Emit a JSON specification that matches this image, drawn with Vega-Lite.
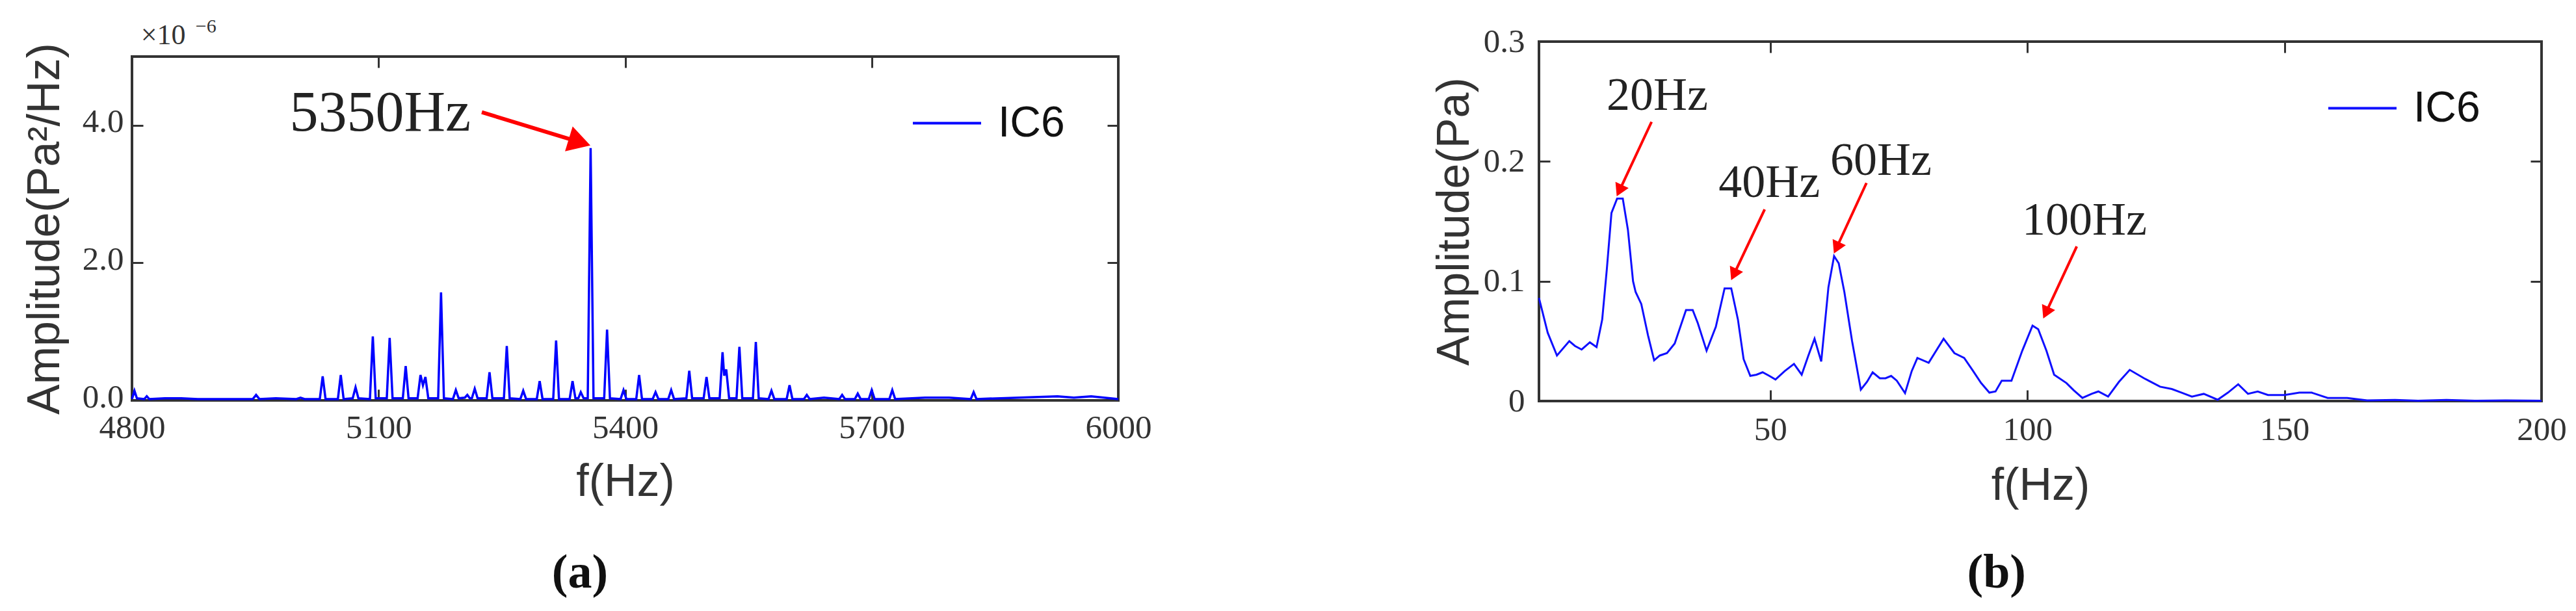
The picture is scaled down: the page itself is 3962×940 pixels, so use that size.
{
  "$schema": "https://vega.github.io/schema/vega-lite/v6.json",
  "padding": {"left": 32, "top": 23, "right": 0, "bottom": 0},
  "background": "white",
  "bounds": "flush",
  "spacing": 2164,
  "config": {
    "view": {"stroke": "#333333", "strokeWidth": 4},
    "axis": {
      "domain": false, "grid": false, "tickSize": -17, "tickWidth": 3, "tickColor": "#333333",
      "labelFont": "Liberation Serif", "labelFontSize": 51, "labelColor": "#333333",
      "titleFont": "Liberation Sans", "titleFontSize": 70, "titleFontWeight": "normal", "titleColor": "#333333",
      "labelFlush": false, "labelOverlap": false, "labelBound": false
    },
    "legend": {
      "title": null, "symbolType": "stroke", "symbolSize": 11025, "symbolStrokeWidth": 4,
      "labelFont": "Liberation Sans", "labelFontSize": 66, "labelColor": "#111111", "labelOffset": 24, "padding": 0
    }
  },
  "datasets": {
    "specA": [
      {"f": 4800, "amp": 0.02}, {"f": 4803, "amp": 0.14}, {"f": 4806, "amp": 0.03}, {"f": 4815, "amp": 0.02},
      {"f": 4818, "amp": 0.06}, {"f": 4821, "amp": 0.02}, {"f": 4840, "amp": 0.03}, {"f": 4860, "amp": 0.03},
      {"f": 4880, "amp": 0.02}, {"f": 4947, "amp": 0.02}, {"f": 4951, "amp": 0.08}, {"f": 4955, "amp": 0.02},
      {"f": 4975, "amp": 0.03}, {"f": 5000, "amp": 0.02}, {"f": 5005, "amp": 0.04}, {"f": 5010, "amp": 0.02},
      {"f": 5028.5, "amp": 0.02}, {"f": 5032, "amp": 0.35}, {"f": 5035.5, "amp": 0.02},
      {"f": 5050.5, "amp": 0.02}, {"f": 5054, "amp": 0.37}, {"f": 5057.5, "amp": 0.02},
      {"f": 5068.5, "amp": 0.03}, {"f": 5072, "amp": 0.19}, {"f": 5075.5, "amp": 0.03},
      {"f": 5089.5, "amp": 0.02}, {"f": 5093, "amp": 0.93}, {"f": 5096.5, "amp": 0.03},
      {"f": 5110, "amp": 0.03}, {"f": 5113.5, "amp": 0.91}, {"f": 5117, "amp": 0.03},
      {"f": 5129.5, "amp": 0.03}, {"f": 5133, "amp": 0.5}, {"f": 5136.5, "amp": 0.03},
      {"f": 5147.5, "amp": 0.03}, {"f": 5151, "amp": 0.37}, {"f": 5154, "amp": 0.22}, {"f": 5157, "amp": 0.34}, {"f": 5160.5, "amp": 0.03},
      {"f": 5172.5, "amp": 0.03}, {"f": 5176, "amp": 1.57}, {"f": 5179.5, "amp": 0.03},
      {"f": 5190.5, "amp": 0.02}, {"f": 5194, "amp": 0.15}, {"f": 5197.5, "amp": 0.03},
      {"f": 5205, "amp": 0.04}, {"f": 5208, "amp": 0.08}, {"f": 5211, "amp": 0.03},
      {"f": 5213.5, "amp": 0.03}, {"f": 5217, "amp": 0.17}, {"f": 5220.5, "amp": 0.03},
      {"f": 5231.5, "amp": 0.03}, {"f": 5235, "amp": 0.41}, {"f": 5238.5, "amp": 0.03},
      {"f": 5252.5, "amp": 0.03}, {"f": 5256, "amp": 0.79}, {"f": 5259.5, "amp": 0.03},
      {"f": 5272.5, "amp": 0.02}, {"f": 5276, "amp": 0.14}, {"f": 5279.5, "amp": 0.02},
      {"f": 5292.5, "amp": 0.02}, {"f": 5296, "amp": 0.28}, {"f": 5299.5, "amp": 0.02},
      {"f": 5312.5, "amp": 0.02}, {"f": 5316, "amp": 0.87}, {"f": 5319.5, "amp": 0.02},
      {"f": 5332.5, "amp": 0.02}, {"f": 5336, "amp": 0.28}, {"f": 5339.5, "amp": 0.03},
      {"f": 5343, "amp": 0.03}, {"f": 5346, "amp": 0.12}, {"f": 5349.5, "amp": 0.03},
      {"f": 5354.5, "amp": 0.03}, {"f": 5358, "amp": 3.67}, {"f": 5361.5, "amp": 0.03},
      {"f": 5374.5, "amp": 0.03}, {"f": 5378, "amp": 1.03}, {"f": 5381.5, "amp": 0.03},
      {"f": 5394.5, "amp": 0.02}, {"f": 5398, "amp": 0.15}, {"f": 5401.5, "amp": 0.02},
      {"f": 5413.5, "amp": 0.02}, {"f": 5417, "amp": 0.37}, {"f": 5420.5, "amp": 0.02},
      {"f": 5433.5, "amp": 0.02}, {"f": 5437, "amp": 0.12}, {"f": 5440.5, "amp": 0.02},
      {"f": 5452.5, "amp": 0.02}, {"f": 5456, "amp": 0.15}, {"f": 5459.5, "amp": 0.02},
      {"f": 5474.5, "amp": 0.03}, {"f": 5478, "amp": 0.43}, {"f": 5481.5, "amp": 0.03},
      {"f": 5495.5, "amp": 0.03}, {"f": 5499, "amp": 0.34}, {"f": 5502.5, "amp": 0.03},
      {"f": 5515, "amp": 0.03}, {"f": 5518.5, "amp": 0.7}, {"f": 5520.5, "amp": 0.36}, {"f": 5523, "amp": 0.45}, {"f": 5526.5, "amp": 0.03},
      {"f": 5535.5, "amp": 0.03}, {"f": 5539, "amp": 0.78}, {"f": 5542.5, "amp": 0.03},
      {"f": 5555.5, "amp": 0.03}, {"f": 5559, "amp": 0.85}, {"f": 5562.5, "amp": 0.03},
      {"f": 5574.5, "amp": 0.02}, {"f": 5578, "amp": 0.14}, {"f": 5581.5, "amp": 0.02},
      {"f": 5596.5, "amp": 0.02}, {"f": 5600, "amp": 0.22}, {"f": 5603.5, "amp": 0.02},
      {"f": 5617.5, "amp": 0.02}, {"f": 5621, "amp": 0.08}, {"f": 5624.5, "amp": 0.02},
      {"f": 5642, "amp": 0.04}, {"f": 5660.5, "amp": 0.02}, {"f": 5664, "amp": 0.08}, {"f": 5667.5, "amp": 0.02},
      {"f": 5679.5, "amp": 0.02}, {"f": 5683, "amp": 0.1}, {"f": 5686.5, "amp": 0.02},
      {"f": 5696.5, "amp": 0.02}, {"f": 5700, "amp": 0.15}, {"f": 5703.5, "amp": 0.02},
      {"f": 5721.5, "amp": 0.02}, {"f": 5725, "amp": 0.15}, {"f": 5728.5, "amp": 0.02},
      {"f": 5765, "amp": 0.04}, {"f": 5794, "amp": 0.04},
      {"f": 5820.5, "amp": 0.02}, {"f": 5824, "amp": 0.12}, {"f": 5827.5, "amp": 0.02},
      {"f": 5926, "amp": 0.06}, {"f": 5946, "amp": 0.04}, {"f": 5967, "amp": 0.06}, {"f": 6000, "amp": 0.02}
    ],
    "specB": [
      {"f": 5, "amp": 0.086}, {"f": 6.7, "amp": 0.057}, {"f": 8.5, "amp": 0.038}, {"f": 10.9, "amp": 0.05},
      {"f": 12.0, "amp": 0.046}, {"f": 13.3, "amp": 0.043}, {"f": 14.9, "amp": 0.049}, {"f": 16.2, "amp": 0.045},
      {"f": 17.3, "amp": 0.068}, {"f": 18.2, "amp": 0.11}, {"f": 19.1, "amp": 0.157}, {"f": 20.2, "amp": 0.169},
      {"f": 21.3, "amp": 0.169}, {"f": 22.3, "amp": 0.143}, {"f": 23.3, "amp": 0.1}, {"f": 23.8, "amp": 0.091},
      {"f": 24.9, "amp": 0.081}, {"f": 26.2, "amp": 0.055}, {"f": 27.4, "amp": 0.034}, {"f": 28.5, "amp": 0.038},
      {"f": 29.9, "amp": 0.04}, {"f": 31.4, "amp": 0.048}, {"f": 32.5, "amp": 0.062}, {"f": 33.6, "amp": 0.076},
      {"f": 34.9, "amp": 0.076}, {"f": 35.9, "amp": 0.065}, {"f": 37.6, "amp": 0.042}, {"f": 39.4, "amp": 0.062},
      {"f": 41.1, "amp": 0.094}, {"f": 42.4, "amp": 0.094}, {"f": 43.7, "amp": 0.068}, {"f": 44.8, "amp": 0.035},
      {"f": 46.1, "amp": 0.021}, {"f": 47.3, "amp": 0.022}, {"f": 48.5, "amp": 0.024}, {"f": 49.8, "amp": 0.021},
      {"f": 51.0, "amp": 0.018}, {"f": 52.8, "amp": 0.025}, {"f": 54.6, "amp": 0.031}, {"f": 56.1, "amp": 0.022},
      {"f": 57.4, "amp": 0.038}, {"f": 58.6, "amp": 0.052}, {"f": 59.9, "amp": 0.033}, {"f": 61.3, "amp": 0.095},
      {"f": 62.4, "amp": 0.121}, {"f": 63.3, "amp": 0.115}, {"f": 64.4, "amp": 0.091}, {"f": 65.9, "amp": 0.05},
      {"f": 67.6, "amp": 0.0095}, {"f": 68.8, "amp": 0.016}, {"f": 69.9, "amp": 0.024}, {"f": 71.3, "amp": 0.019},
      {"f": 72.4, "amp": 0.019}, {"f": 73.5, "amp": 0.021}, {"f": 74.6, "amp": 0.017}, {"f": 76.2, "amp": 0.0066},
      {"f": 77.5, "amp": 0.025}, {"f": 78.6, "amp": 0.036}, {"f": 80.8, "amp": 0.032}, {"f": 83.7, "amp": 0.052},
      {"f": 85.8, "amp": 0.04}, {"f": 87.7, "amp": 0.036}, {"f": 89.3, "amp": 0.026}, {"f": 91.0, "amp": 0.015},
      {"f": 92.6, "amp": 0.007}, {"f": 93.8, "amp": 0.008}, {"f": 95.0, "amp": 0.017}, {"f": 96.9, "amp": 0.017},
      {"f": 99.0, "amp": 0.042}, {"f": 101.0, "amp": 0.063}, {"f": 102.1, "amp": 0.06}, {"f": 103.7, "amp": 0.042},
      {"f": 105.2, "amp": 0.022}, {"f": 107.6, "amp": 0.015}, {"f": 109.0, "amp": 0.009}, {"f": 110.7, "amp": 0.0026},
      {"f": 112.5, "amp": 0.006}, {"f": 113.8, "amp": 0.008}, {"f": 115.7, "amp": 0.0037}, {"f": 117.8, "amp": 0.016},
      {"f": 119.9, "amp": 0.026}, {"f": 122.7, "amp": 0.019}, {"f": 125.8, "amp": 0.012}, {"f": 128.1, "amp": 0.01},
      {"f": 130.0, "amp": 0.007}, {"f": 132.0, "amp": 0.0037}, {"f": 134.3, "amp": 0.006}, {"f": 137.0, "amp": 0.0011},
      {"f": 139.0, "amp": 0.007}, {"f": 141.0, "amp": 0.014}, {"f": 142.9, "amp": 0.006}, {"f": 144.8, "amp": 0.008},
      {"f": 146.8, "amp": 0.005}, {"f": 150, "amp": 0.005}, {"f": 152.9, "amp": 0.007}, {"f": 155.3, "amp": 0.007},
      {"f": 158.4, "amp": 0.0026}, {"f": 162.2, "amp": 0.0026}, {"f": 166.1, "amp": 0.0005}, {"f": 171.5, "amp": 0.001},
      {"f": 176, "amp": 0.0003}, {"f": 181.5, "amp": 0.001}, {"f": 187, "amp": 0.0003}, {"f": 193, "amp": 0.0005},
      {"f": 200, "amp": 0.0003}
    ]
  },
  "hconcat": [
    {
      "bounds": "flush",
      "spacing": 10,
      "vconcat": [
        {
          "width": 1517, "height": 13,
          "view": {"stroke": null},
          "data": {"values": [{"f": 0}]},
          "mark": {"type": "point", "opacity": 0},
          "encoding": {}
        },
        {
          "width": 1517, "height": 529,
          "layer": [
            {
              "data": {"name": "specA"},
              "mark": {"type": "line", "strokeWidth": 3.5},
              "encoding": {
                "x": {"field": "f", "type": "quantitative", "scale": {"domain": [4800, 6000], "nice": false, "zero": false},
                      "axis": {"values": [4800, 5100, 5400, 5700, 6000], "format": "d", "title": "f(Hz)", "labelPadding": 34, "titlePadding": 24}},
                "y": {"field": "amp", "type": "quantitative", "scale": {"domain": [0, 5], "nice": false},
                      "axis": {"values": [0, 2, 4], "format": ".1f", "title": "Amplitude(Pa²/Hz)", "labelPadding": 30, "titlePadding": 21, "labelOffset": -5}},
                "color": {"datum": "IC6", "type": "nominal", "scale": {"range": ["#0000ff"]},
                          "legend": {"orient": "none", "legendX": 1199, "legendY": 71}}
              }
            },
            {
              "data": {"name": "specA"},
              "mark": {"type": "line", "strokeOpacity": 0},
              "encoding": {
                "x": {"field": "f", "type": "quantitative", "axis": {"orient": "top", "values": [5100, 5400, 5700], "labels": false, "title": null}},
                "y": {"field": "amp", "type": "quantitative", "axis": {"orient": "right", "values": [2, 4], "labels": false, "title": null}}
              }
            },
            {
              "data": {"values": [{"f": 5225.6, "amp": 4.19, "f2": 5344.6, "amp2": 3.755}]},
              "mark": {"type": "rule", "color": "#ff0000", "strokeWidth": 6},
              "encoding": {
                "x": {"field": "f", "type": "quantitative", "axis": null},
                "y": {"field": "amp", "type": "quantitative", "axis": null},
                "x2": {"field": "f2"}, "y2": {"field": "amp2"}
              }
            },
            {
              "data": {"values": [{"f": 5344.6, "amp": 3.755}]},
              "mark": {"type": "point", "shape": "triangle-right", "filled": true, "color": "#ff0000", "opacity": 1, "size": 1600, "angle": 17},
              "encoding": {
                "x": {"field": "f", "type": "quantitative", "axis": null},
                "y": {"field": "amp", "type": "quantitative", "axis": null}
              }
            },
            {
              "data": {"values": [{"f": 5102, "amp": 3.924, "label": "5350Hz"}]},
              "mark": {"type": "text", "font": "Liberation Serif", "fontSize": 88, "color": "#222222", "align": "center", "baseline": "alphabetic"},
              "encoding": {
                "x": {"field": "f", "type": "quantitative", "axis": null},
                "y": {"field": "amp", "type": "quantitative", "axis": null},
                "text": {"field": "label"}
              }
            },
            {
              "data": {"values": [{"f": 4838, "amp": 5.182, "label": "×10"}]},
              "mark": {"type": "text", "font": "Liberation Serif", "fontSize": 44, "color": "#333333", "align": "center", "baseline": "alphabetic"},
              "encoding": {
                "x": {"field": "f", "type": "quantitative", "axis": null},
                "y": {"field": "amp", "type": "quantitative", "axis": null},
                "text": {"field": "label"}
              }
            },
            {
              "data": {"values": [{"f": 4890, "amp": 5.352, "label": "−6"}]},
              "mark": {"type": "text", "font": "Liberation Serif", "fontSize": 30, "color": "#333333", "align": "center", "baseline": "alphabetic"},
              "encoding": {
                "x": {"field": "f", "type": "quantitative", "axis": null},
                "y": {"field": "amp", "type": "quantitative", "axis": null},
                "text": {"field": "label"}
              }
            },
            {
              "data": {"values": [{"f": 5345, "amp": -2.515, "label": "(a)"}]},
              "mark": {"type": "text", "font": "Liberation Serif", "fontSize": 74, "fontWeight": "bold", "color": "#111111", "align": "center", "baseline": "middle"},
              "encoding": {
                "x": {"field": "f", "type": "quantitative", "axis": null},
                "y": {"field": "amp", "type": "quantitative", "axis": null},
                "text": {"field": "label"}
              }
            }
          ],
          "resolve": {"axis": {"x": "independent", "y": "independent"}}
        }
      ]
    },
    {
      "width": 1542, "height": 553,
      "layer": [
        {
          "data": {"name": "specB"},
          "mark": {"type": "line", "strokeWidth": 3},
          "encoding": {
            "x": {"field": "f", "type": "quantitative", "scale": {"domain": [5, 200], "nice": false, "zero": false},
                  "axis": {"values": [50, 100, 150, 200], "title": "f(Hz)", "labelPadding": 36, "titlePadding": 27}},
            "y": {"field": "amp", "type": "quantitative", "scale": {"domain": [0, 0.3], "nice": false},
                  "axis": {"values": [0, 0.1, 0.2, 0.3], "labelExpr": "datum.value == 0 ? '0' : format(datum.value, '.1f')", "title": "Amplitude(Pa)", "labelPadding": 39, "titlePadding": 8}},
            "color": {"datum": "IC6", "type": "nominal", "scale": {"range": ["#1010ff"]},
                      "legend": {"orient": "none", "legendX": 1212, "legendY": 48}}
          }
        },
        {
          "data": {"name": "specB"},
          "mark": {"type": "line", "strokeOpacity": 0},
          "encoding": {
            "x": {"field": "f", "type": "quantitative", "axis": {"orient": "top", "values": [50, 100, 150], "labels": false, "title": null}},
            "y": {"field": "amp", "type": "quantitative", "axis": {"orient": "right", "values": [0.1, 0.2], "labels": false, "title": null}}
          }
        },
        {
          "data": {"values": [
            {"f": 26.9, "amp": 0.233, "f2": 20.64, "amp2": 0.1756},
            {"f": 48.9, "amp": 0.16, "f2": 42.9, "amp2": 0.1056},
            {"f": 68.7, "amp": 0.182, "f2": 62.88, "amp2": 0.1279},
            {"f": 109.6, "amp": 0.129, "f2": 103.6, "amp2": 0.0737}
          ]},
          "mark": {"type": "rule", "color": "#ff0000", "strokeWidth": 4},
          "encoding": {
            "x": {"field": "f", "type": "quantitative", "axis": null},
            "y": {"field": "amp", "type": "quantitative", "axis": null},
            "x2": {"field": "f2"}, "y2": {"field": "amp2"}
          }
        },
        {
          "data": {"values": [
            {"f": 20.64, "amp": 0.1756}, {"f": 42.9, "amp": 0.1056}, {"f": 62.88, "amp": 0.1279}, {"f": 103.6, "amp": 0.0737}
          ]},
          "mark": {"type": "point", "shape": "triangle-right", "filled": true, "color": "#ff0000", "opacity": 1, "size": 500, "angle": 115},
          "encoding": {
            "x": {"field": "f", "type": "quantitative", "axis": null},
            "y": {"field": "amp", "type": "quantitative", "axis": null}
          }
        },
        {
          "data": {"values": [
            {"f": 28.0, "amp": 0.2431, "label": "20Hz"},
            {"f": 49.8, "amp": 0.1702, "label": "40Hz"},
            {"f": 71.5, "amp": 0.1886, "label": "60Hz"},
            {"f": 111.1, "amp": 0.139, "label": "100Hz"}
          ]},
          "mark": {"type": "text", "font": "Liberation Serif", "fontSize": 72, "color": "#222222", "align": "center", "baseline": "alphabetic"},
          "encoding": {
            "x": {"field": "f", "type": "quantitative", "axis": null},
            "y": {"field": "amp", "type": "quantitative", "axis": null},
            "text": {"field": "label"}
          }
        },
        {
          "data": {"values": [{"f": 94.0, "amp": -0.1436, "label": "(b)"}]},
          "mark": {"type": "text", "font": "Liberation Serif", "fontSize": 74, "fontWeight": "bold", "color": "#111111", "align": "center", "baseline": "middle"},
          "encoding": {
            "x": {"field": "f", "type": "quantitative", "axis": null},
            "y": {"field": "amp", "type": "quantitative", "axis": null},
            "text": {"field": "label"}
          }
        }
      ],
      "resolve": {"axis": {"x": "independent", "y": "independent"}}
    }
  ],
  "resolve": {"scale": {"color": "independent"}, "legend": {"color": "independent"}}
}
